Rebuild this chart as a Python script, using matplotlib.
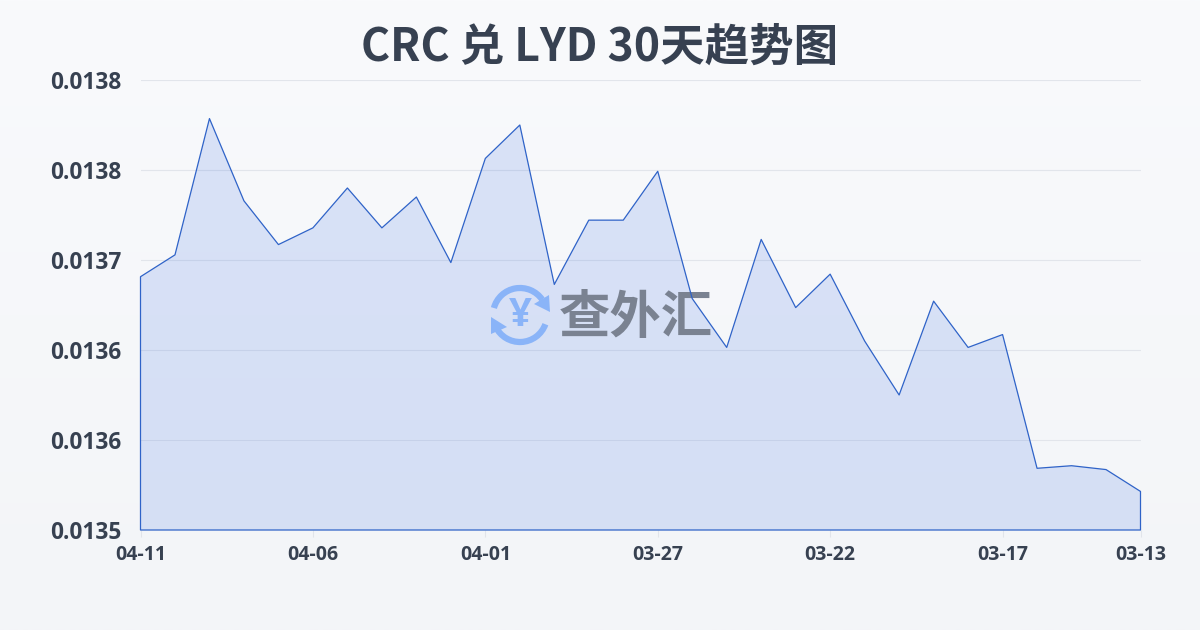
import numpy as np
import matplotlib
matplotlib.use("Agg")
import matplotlib.pyplot as plt
from matplotlib.patches import Arc, Polygon
from matplotlib.transforms import Affine2D

plt.rcParams['font.family'] = ['Noto Sans CJK SC', 'DejaVu Sans']

title = "CRC 兑 LYD 30天趋势图"
rates = [0.013697, 0.013714, 0.013820, 0.013756, 0.013722, 0.013735, 0.013766,
         0.013735, 0.013759, 0.013708, 0.013789, 0.013815, 0.013691, 0.013741,
         0.013741, 0.013779, 0.013680, 0.013642, 0.013726, 0.013673, 0.013699,
         0.013647, 0.013605, 0.013678, 0.013642, 0.013652, 0.013548, 0.013550,
         0.013547, 0.013530]
x_tick_pos = [0, 5, 10, 15, 20, 25, 29]
x_tick_labels = ["04-11", "04-06", "04-01", "03-27", "03-22", "03-17", "03-13"]
y_ticks = [0.0135, 0.01357, 0.01364, 0.01371, 0.01378, 0.01385]
y_tick_labels = ["0.0135", "0.0136", "0.0136", "0.0137", "0.0138", "0.0138"]

W, H = 1200, 630
fig = plt.figure(figsize=(12, 6.3), dpi=100)

bg = fig.add_axes([0, 0, 1, 1], zorder=0)
bg.imshow(np.linspace(0, 1, 256)[:, None], aspect='auto', extent=[0, 1, 0, 1],
          cmap=matplotlib.colors.LinearSegmentedColormap.from_list('b', ['#f9fafc', '#f3f5f8']))
bg.axis('off')

ax = fig.add_axes([140.5 / W, (H - 530) / H, 1000 / W, 450 / H], zorder=1)
ax.patch.set_alpha(0)
x = np.arange(len(rates))
ax.set_xlim(0, len(rates) - 1)
ax.set_ylim(y_ticks[0], y_ticks[-1])
ax.grid(axis='y', color='#e2e5eb', lw=0.8, zorder=1)
ax.set_axisbelow(True)
ax.fill_between(x, rates, y_ticks[0], facecolor='#2a62e0', alpha=0.15, lw=0, zorder=2)
ax.fill_between(x, rates, y_ticks[0], facecolor='none', edgecolor='#2f63c8', lw=0.9,
                zorder=5, clip_on=False)

ax.set_xticks(x_tick_pos, x_tick_labels)
ax.set_yticks(y_ticks, y_tick_labels)
ax.tick_params(axis='x', length=5, width=0.8, color='#e1e4ea', pad=5.5)
ax.tick_params(axis='y', length=0, pad=14)
for lab in ax.get_xticklabels():
    lab.set(fontfamily='Open Sans', fontweight='bold', fontsize=14, color='#374151')
for lab in ax.get_yticklabels():
    lab.set(fontfamily='Open Sans', fontweight='bold', fontsize=16.3, color='#374151')
for s in ax.spines.values():
    s.set_visible(False)

# watermark, placed in pixel coordinates (y downward)
px = Affine2D().scale(1, -1).translate(0, H)
blue = '#8ab4f8'
cx, cy, r = 520, 315, 27
ax.add_patch(Arc((cx, cy), 2 * r, 2 * r, theta1=195, theta2=325, transform=px, color=blue,
                 lw=4.5, zorder=3, clip_on=False))
ax.add_patch(Arc((cx, cy), 2 * r, 2 * r, theta1=20, theta2=155, transform=px, color=blue,
                 lw=4.5, zorder=3, clip_on=False))
ax.add_patch(Polygon([(549, 295), (550, 312), (534, 304)], closed=True, transform=px,
                     color=blue, lw=0, zorder=3, clip_on=False))
ax.add_patch(Polygon([(491, 317), (491, 334), (507, 327)], closed=True, transform=px,
                     color=blue, lw=0, zorder=3, clip_on=False))
ax.text(520, 315, "¥", transform=px, color=blue, fontsize=29, fontweight='bold',
        ha='center', va='center', fontfamily='Open Sans', zorder=3, clip_on=False)
ax.text(636, 317, "查外汇", transform=px, color='#7a8291', fontsize=37, fontweight='bold',
        ha='center', va='center', zorder=3, clip_on=False)

fig.text(0.5, (H - 48) / H, title, ha='center', va='center', fontsize=32,
         fontweight='bold', color='#374151')

fig.savefig("out.png", dpi=100)
